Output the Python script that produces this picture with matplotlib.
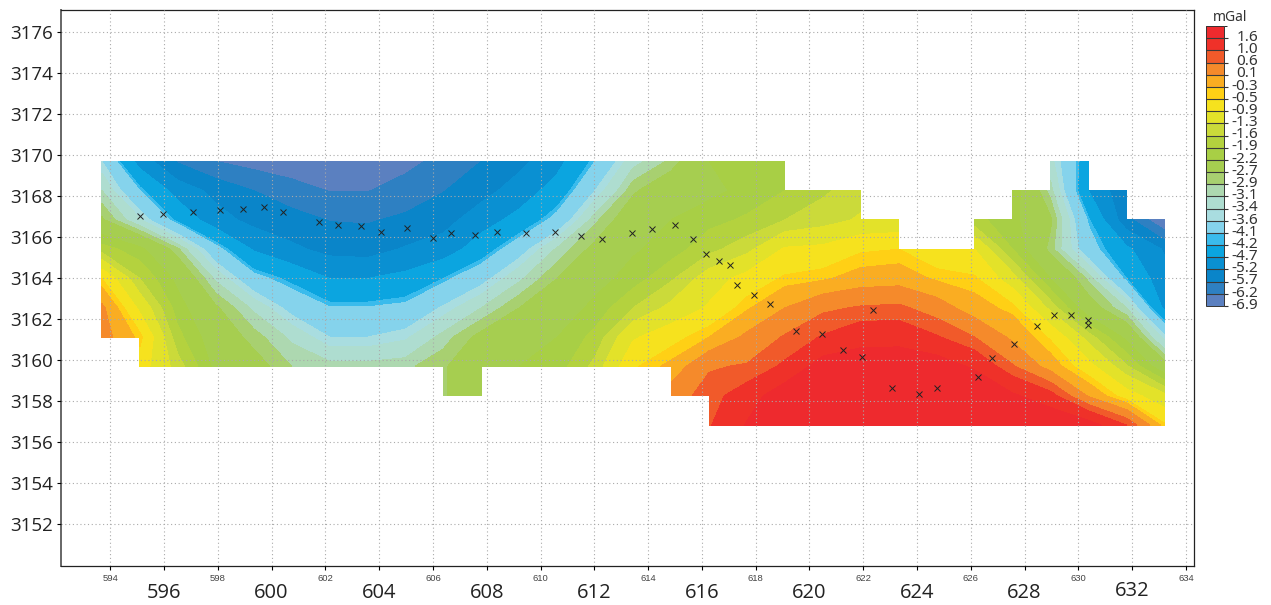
import numpy as np
import matplotlib
matplotlib.use('Agg')
import matplotlib.pyplot as plt
from matplotlib.colors import ListedColormap, BoundaryNorm
from matplotlib.transforms import ScaledTranslation

n = np.nan

# grid nodes of the gridded anomaly
x_nodes = np.linspace(593.69, 633.2, 29)
y_nodes = np.linspace(3156.84, 3169.70, 10)

# one list per grid row, from north to south (mGal), nan = no data
row0 = [-3.6, -4.9, -5.75, -6.2, -6.4, -6.5, -6.55, -6.5, -6.35, -6.05, -5.7, -5.35, -4.85, -4.1, -3.2, -2.85, -2.2, -2.05, -1.9, n, n, n, n, n, n, -3.3, -4.5, n, n]
row1 = [-3.1, -4.1, -4.9, -5.35, -5.7, -6.0, -6.22, -6.22, -6.0, -5.72, -5.4, -4.95, -4.5, -3.6, -2.75, -2.4, -2.3, -2.1, -1.9, -1.65, -1.45, n, n, n, -2.0, -3.0, -4.7, -5.6, n]
row2 = [-2.65, -3.35, -4.3, -5.0, -5.35, -5.5, -5.72, -5.75, -5.6, -5.4, -4.9, -4.55, -3.95, -2.95, -2.45, -2.2, -2.0, -1.85, -1.6, -1.45, -1.25, -1.2, n, -1.8, -2.1, -2.65, -4.15, -5.5, -6.7]
row3 = [-1.75, -2.1, -2.85, -3.95, -4.75, -5.1, -5.35, -5.4, -5.15, -4.95, -4.45, -3.8, -3.05, -2.6, -2.25, -2.05, -1.7, -1.4, -0.85, -0.8, -0.55, -0.5, -0.8, -0.9, -1.9, -2.8, -3.9, -4.6, -5.25]
row4 = [-0.5, -1.6, -2.3, -3.15, -3.95, -4.3, -4.7, -4.7, -4.55, -4.2, -3.75, -3.15, -2.7, -2.35, -2.05, -1.65, -1.1, -0.75, -0.45, -0.35, -0.15, -0.1, -0.35, -0.45, -1.15, -2.2, -2.95, -4.2, -5.0]
row5 = [0.2, -1.0, -2.05, -2.65, -3.15, -3.75, -4.08, -4.08, -4.0, -3.55, -3.1, -2.7, -2.45, -2.1, -1.6, -1.2, -0.85, -0.35, 0.1, 0.5, 0.65, 0.7, 0.35, -0.15, -0.4, -1.4, -2.5, -3.1, -4.8]
row6 = [0.3, -0.4, -1.8, -2.45, -2.8, -3.15, -3.6, -3.6, -3.45, -3.0, -2.6, -2.4, -2.2, -1.8, -0.95, -0.65, -0.3, 0.2, 0.65, 1.05, 1.4, 1.4, 1.05, 0.6, 0.0, -0.55, -1.45, -2.3, -3.5]
row7 = [n, -0.7, -1.45, -2.3, -2.55, -2.9, -3.0, -3.0, -2.95, -2.75, -2.3, -2.2, -2.05, -1.5, -0.55, -0.2, 0.55, 0.65, 1.1, 1.9, 1.95, 2.0, 1.95, 1.5, 0.65, -0.1, -0.75, -1.55, -2.5]
row8 = [n, n, n, n, n, n, n, n, n, -2.75, -2.3, n, n, n, n, 0.35, 0.8, 1.3, 2.0, 2.3, 2.5, 2.6, 2.5, 2.3, 1.7, 1.2, 0.05, -0.7, -1.2]
row9 = [n, n, n, n, n, n, n, n, n, n, n, n, n, n, n, n, 0.95, 1.65, 2.3, 2.6, 2.8, 2.9, 2.9, 2.8, 2.5, 2.2, 1.9, 1.0, -0.45]

# stations
st_x = [595.12, 595.97, 597.06, 598.09, 598.93, 599.71, 600.43, 601.77, 602.48, 603.33, 604.07, 605.03,
        606.01, 606.69, 607.58, 608.39, 609.45, 610.54, 611.50, 612.28, 613.41, 614.15, 615.00, 615.67,
        616.15, 616.64, 617.05, 617.31, 617.93, 618.54, 619.49, 620.47, 621.25, 621.94, 622.35, 623.07,
        624.09, 624.73, 626.27, 626.78, 627.62, 628.46, 629.09, 629.72, 630.35, 630.35]
st_y = [3167.02, 3167.12, 3167.22, 3167.30, 3167.38, 3167.48, 3167.22, 3166.73, 3166.59, 3166.54, 3166.27, 3166.44,
        3165.95, 3166.20, 3166.11, 3166.24, 3166.22, 3166.24, 3166.05, 3165.90, 3166.20, 3166.39, 3166.59, 3165.90,
        3165.17, 3164.84, 3164.66, 3163.67, 3163.19, 3162.73, 3161.40, 3161.27, 3160.50, 3160.15, 3162.44, 3158.63,
        3158.36, 3158.63, 3159.20, 3160.11, 3160.78, 3161.66, 3162.21, 3162.21, 3161.98, 3161.71]

# contour classes, low to high
levels = [-6.9, -6.2, -5.7, -5.2, -4.7, -4.2, -4.1, -3.6, -3.4, -3.1, -2.9, -2.7, -2.2, -1.9, -1.6, -1.3,
          -0.9, -0.5, -0.3, 0.1, 0.6, 1.0, 1.6, 3.0]
level_labels = ['-6.9', '-6.2', '-5.7', '-5.2', '-4.7', '-4.2', '-4.1', '-3.6', '-3.4', '-3.1', '-2.9', '-2.7',
                '-2.2', '-1.9', '-1.6', '-1.3', '-0.9', '-0.5', '-0.3', '0.1', '0.6', '1.0', '1.6']
colors = ['#5B80C0', '#2E80C2', '#0A85C9', '#0A90D2', '#0BA5E0', '#3ABBEC', '#85D3EC', '#A9DDE0', '#AEDDD0',
          '#ADD8B0', '#A8D070', '#A6CE50', '#A8CF45', '#B4D23E', '#CBDA3A', '#E3E229', '#F6E21E', '#FFD015',
          '#FAAD22', '#F58A2B', '#F15A2A', '#EF3129', '#EE2A2E']

x_ticks = list(range(594, 636, 2))
y_ticks = list(range(3152, 3178, 2))

W, H = 1271, 605
fig = plt.figure(figsize=(W / 100, H / 100), dpi=100)
ax = fig.add_axes([61 / W, 1 - 566 / H, (1194 - 61) / W, (566 - 10) / H])

Z = np.ma.masked_invalid(np.array([row9, row8, row7, row6, row5, row4, row3, row2, row1, row0]))
cmap = ListedColormap(colors)
norm = BoundaryNorm(levels, cmap.N)
cs = ax.contourf(x_nodes, y_nodes, Z, levels=levels, cmap=cmap, norm=norm, corner_mask=False, zorder=1)

ax.plot(st_x, st_y, linestyle='none', marker='x', ms=4, mew=0.7, color='#222222', zorder=4)

ax.set_xlim(592.17, 634.3)
ax.set_ylim(3149.97, 3177.07)
ax.grid(True, linestyle=(0, (1, 2.4)), linewidth=0.8, color='#aaaaaa', zorder=3)
ax.set_axisbelow(False)

for s in ax.spines.values():
    s.set_linewidth(0.9)
    s.set_color('#222222')
ax.spines['left'].set_linewidth(1.4)
ax.spines['left'].set_color('#666666')

ax.set_yticks(y_ticks)
ax.set_yticklabels([str(v) for v in y_ticks], family='Open Sans', fontsize=13.5, color='#222222')
ax.tick_params(axis='y', length=3, width=0.8, pad=3)

ax.set_xticks(x_ticks)
ax.set_xticklabels([str(v) for v in x_ticks])
ax.tick_params(axis='x', length=3, width=0.8)
for v, tick in zip(x_ticks, ax.xaxis.get_major_ticks()):
    if v % 4 == 2:
        tick.label1.set_family('Liberation Sans')
        tick.label1.set_fontsize(6.8)
        tick.label1.set_color('#444444')
        tick.set_pad(3)
    else:
        tick.label1.set_family('Open Sans')
        tick.label1.set_fontsize(14.5)
        tick.label1.set_color('#222222')
        tick.set_pad(9.5 if v != 632 else 8)

# legend
cax = fig.add_axes([1206 / W, 1 - 306 / H, 18 / W, 280 / H])
cb = fig.colorbar(cs, cax=cax, spacing='uniform', drawedges=True)
cb.set_ticks(levels[:-1], labels=level_labels)
cb.ax.tick_params(length=3, width=0.8, pad=21.5, color='#333333')
shift = ScaledTranslation(0, 2 / 72, fig.dpi_scale_trans)
for lab in cb.ax.get_yticklabels():
    lab.set_ha('right')
    lab.set_family('Noto Sans')
    lab.set_fontsize(11)
    lab.set_color('#333333')
    lab.set_transform(lab.get_transform() + shift)
cb.outline.set_linewidth(0.7)
cb.outline.set_edgecolor('#333333')
cb.dividers.set_color('#3a3a3a')
cb.dividers.set_linewidth(0.8)
fig.text(1230 / W, 1 - 17.5 / H, 'mGal', family='Noto Sans', fontsize=10, color='#333333', ha='center', va='center')

fig.savefig('out.png', dpi=100)
